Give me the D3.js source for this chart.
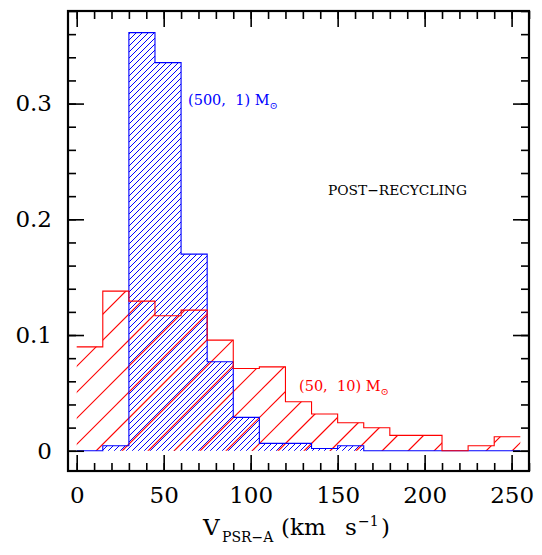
<!DOCTYPE html>
<html>
<head>
<meta charset="utf-8">
<script src="https://cdn.jsdelivr.net/npm/d3@7"></script>
<style>
  body { margin: 0; background: #fff; }
  text { font-family: "DejaVu Serif", serif; white-space: pre; }
</style>
</head>
<body>
<div id="chart"></div>
<script>
// bin edges, 15 km/s wide
var binEdges = [0, 15, 30, 45, 60, 75, 90, 105, 120, 135, 150, 165, 180, 195, 210, 225, 240, 255];
// (500, 1) Msun run, blue
var blueVals = [0, 0.0043, 0.3613, 0.3354, 0.1699, 0.0769, 0.0288, 0.0064, 0.0064, 0.002, 0.0043, 0, 0, 0, 0, 0, 0];
// (50, 10) Msun run, red
var redVals = [0.0898, 0.1379, 0.1293, 0.1166, 0.1215, 0.0956, 0.0711, 0.0725, 0.0423, 0.0317, 0.0242, 0.0199, 0.0133, 0.0133, 0, 0.0043, 0.0121];

var xMajor = [0, 50, 100, 150, 200, 250];
var xMinor = d3.range(0, 261, 10);
var yMajor = [0, 0.1, 0.2, 0.3];
var yMinor = d3.range(0, 0.381, 0.02);

var width = 542
var height = 555
// plot frame (don't call these top/left: window.top is read-only)
var fLeft = 68, fRight = 529, fTop = 11, fBottom = 471

var svg = d3.select("#chart")
  .append("svg")
    .attr("width", width)
    .attr("height", height)

var x = d3.scaleLinear().domain([-5, 260]).range([fLeft, fRight]);
var y = d3.scaleLinear().domain([-0.0175, 0.38]).range([fBottom, fTop]);

var defs = svg.append("defs");

function stepPoints(vals) {
  var pts = [];
  vals.forEach(function(v, i) {
    pts.push([binEdges[i], v]);
    pts.push([binEdges[i + 1], v]);
  });
  return pts;
}

// area under the step histogram
function stepArea(vals) {
  return d3.area()
    .x(function(d) { return x(d[0]); })
    .y0(y(0))
    .y1(function(d) { return y(d[1]); })(stepPoints(vals));
}

// outline of the step histogram
function stepLine(vals) {
  return d3.line()
    .x(function(d) { return x(d[0]); })
    .y(function(d) { return y(d[1]); })(stepPoints(vals));
}

// 45 degree hatching clipped to the histogram area
function hatchFill(id, vals, step, color, sw) {
  defs.append("clipPath").attr("id", id).append("path").attr("d", stepArea(vals));
  var g = svg.append("g").attr("clip-path", "url(#" + id + ")");
  var offs = d3.range(fLeft - (fBottom - fTop), fRight + 1, step);
  g.selectAll("line").data(offs).enter().append("line")
    .attr("x1", function(d) { return d; })
    .attr("y1", fBottom)
    .attr("x2", function(d) { return d + (fBottom - fTop); })
    .attr("y2", fTop)
    .attr("stroke", color)
    .attr("stroke-width", sw);
}
hatchFill("clipBlue", blueVals, 6, "#0000ff", 1);
hatchFill("clipRed", redVals, 26, "#ff0000", 1.2);

svg.append("path").attr("d", stepLine(blueVals)).attr("fill", "none").attr("stroke", "#0000ff").attr("stroke-width", 1.1);
svg.append("path").attr("d", stepLine(redVals)).attr("fill", "none").attr("stroke", "#ff0000").attr("stroke-width", 1.1);

// ticks on all four sides, pointing inward
function ticks(axis, tx, ty, vals, size, labels) {
  var g = svg.append("g")
    .attr("transform", "translate(" + tx + "," + ty + ")")
    .call(axis.tickValues(vals).tickSize(-size).tickSizeOuter(0).tickPadding(labels ? 16 : 0)
      .tickFormat(labels ? d3.format("") : ""));
  g.select(".domain").remove();
  g.selectAll("line").attr("stroke", "#000").attr("stroke-width", 1.6);
  g.selectAll("text").attr("font-size", 23).attr("fill", "#000").style("font-family", "DejaVu Serif");
  return g;
}
ticks(d3.axisBottom(x), 0, fBottom, xMinor, 8, false);
ticks(d3.axisBottom(x), 0, fBottom, xMajor, 16, true);
ticks(d3.axisTop(x), 0, fTop, xMinor, 8, false);
ticks(d3.axisTop(x), 0, fTop, xMajor, 16, false);
ticks(d3.axisLeft(y), fLeft, 0, yMinor, 8, false);
ticks(d3.axisLeft(y), fLeft, 0, yMajor, 16, true);
ticks(d3.axisRight(y), fRight, 0, yMinor, 8, false);
ticks(d3.axisRight(y), fRight, 0, yMajor, 16, false);

// frame
svg.append("rect")
  .attr("x", fLeft).attr("y", fTop)
  .attr("width", fRight - fLeft).attr("height", fBottom - fTop)
  .attr("fill", "none").attr("stroke", "#000").attr("stroke-width", 2.2);

// x axis title
var xt = svg.append("text").attr("y", 535).attr("font-size", 23).attr("fill", "#000");
xt.append("tspan").attr("x", 203).text("V");
xt.append("tspan").attr("x", 222).attr("font-size", 14).attr("dy", 7).text("PSR\u2212A");
xt.append("tspan").attr("x", 281).attr("dy", -7).text("(km");
xt.append("tspan").attr("x", 345).text("s");
xt.append("tspan").attr("x", 358).attr("font-size", 14).attr("dy", -9).text("\u22121");
xt.append("tspan").attr("x", 381).attr("dy", 9).text(")");

// annotations
function label(tx, ty, txt, color, sun, fs) {
  var t = svg.append("text").attr("x", tx).attr("y", ty).attr("font-size", fs).attr("fill", color);
  t.append("tspan").text(txt);
  if (sun) t.append("tspan").attr("font-size", 10).attr("dy", 4).text("\u2299");
}
label(188, 105, "(500,  1) M", "#0000ff", true, 14.5);
label(299, 391, "(50,  10) M", "#ff0000", true, 14.5);
label(328, 195, "POST\u2212RECYCLING", "#000", false, 13.8);
</script>
</body>
</html>
